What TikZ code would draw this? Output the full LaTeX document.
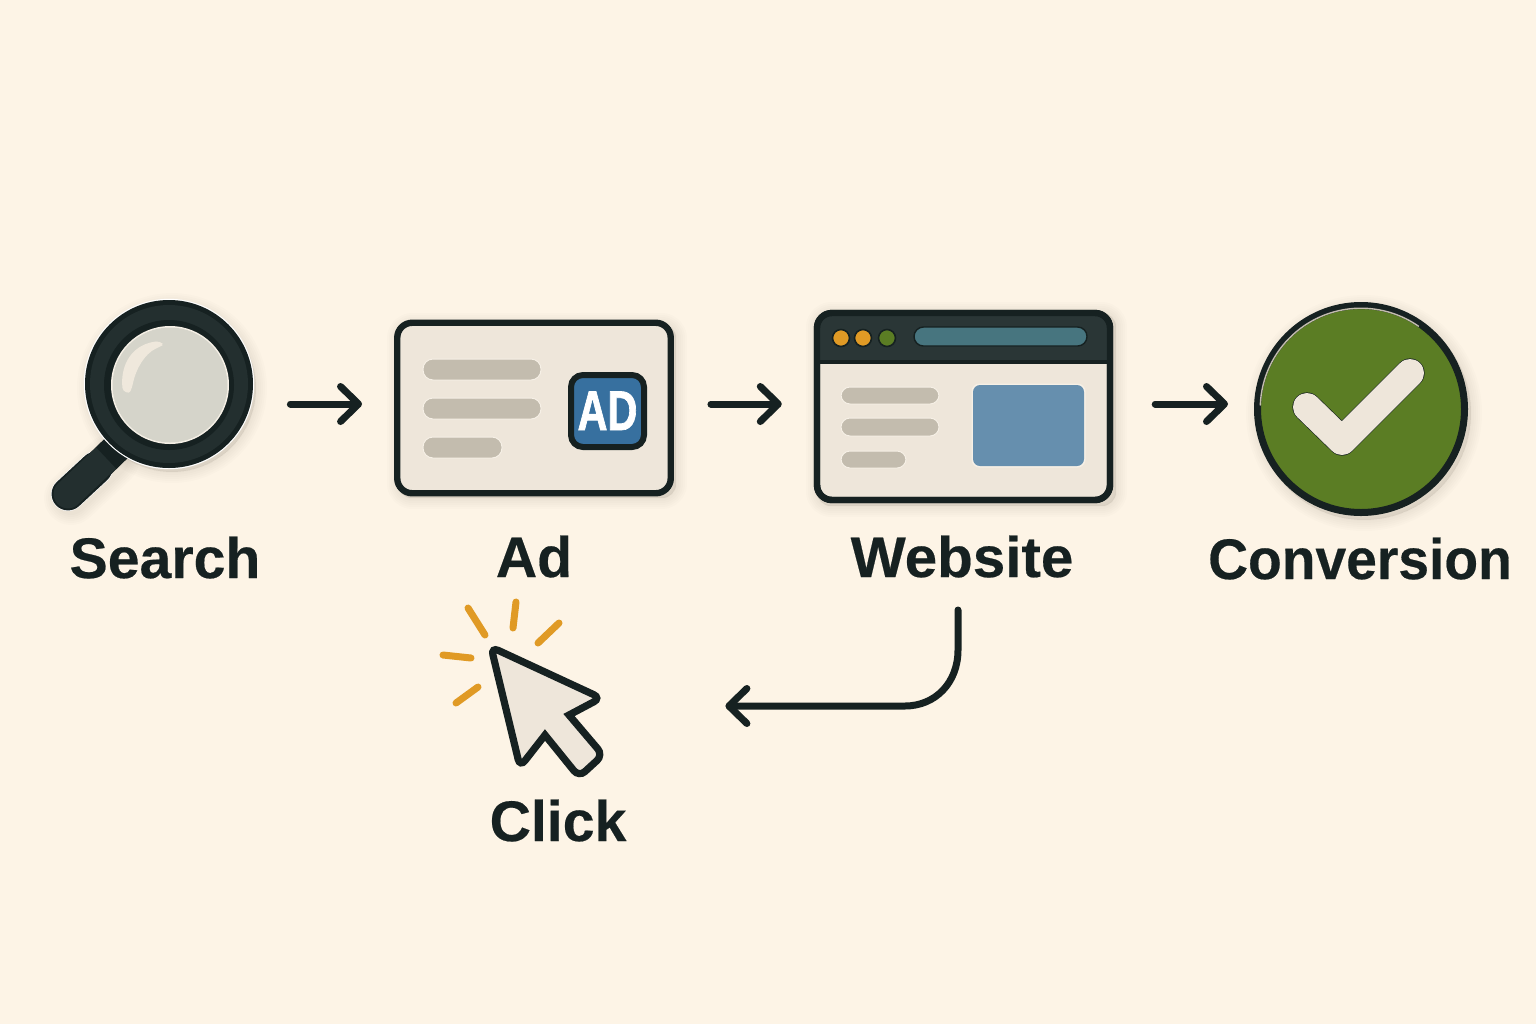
\documentclass[tikz,border=0pt]{standalone}
\usepackage{fontspec}
\setmainfont[BoldFeatures={FakeBold=0.35}]{Liberation Sans}
\newfontfamily\adfont[BoldFeatures={FakeBold=1.2,FakeStretch=.74}]{Liberation Sans}
\usetikzlibrary{arrows.meta,calc}
\definecolor{paper}{HTML}{FDF4E6}
\definecolor{ink}{HTML}{162121}
\definecolor{ringc}{HTML}{232F2F}
\definecolor{headc}{HTML}{2A3636}
\definecolor{lensc}{HTML}{D5D4CA}
\definecolor{glint}{HTML}{EFE8DC}
\definecolor{halo}{HTML}{F6F0E6}
\definecolor{cardc}{HTML}{EEE6DA}
\definecolor{barc}{HTML}{C3BCAE}
\definecolor{adblue}{HTML}{37709F}
\definecolor{panelblue}{HTML}{668FAE}
\definecolor{amber}{HTML}{E09A25}
\definecolor{greenc}{HTML}{5B7D24}
\definecolor{urlc}{HTML}{47757F}
\tikzset{
  flow/.style={draw=ink,line width=3.5pt,line cap=round,line join=round,
    -{Straight Barb[length=9pt,width=17.5pt,line cap=round,line join=round]}},
  label/.style={anchor=base,text=ink,font=\bfseries\fontsize{28.6}{30}\selectfont},
  card/.style={draw=ink,line width=3.2pt,fill=cardc,rounded corners=7.5pt,inner sep=0pt},
  barpill/.style={fill=barc,rounded corners=5pt,draw=halo,line width=.5pt},
  spark/.style={draw=amber,line width=3.5pt,line cap=round},
  iconbox/.style={inner sep=0pt,minimum width=0pt},
  soft/.style={fill=black,opacity=.011,draw=black,draw opacity=.011,line join=round},
}
\begin{document}
\begin{tikzpicture}[x=.5pt,y=-.5pt]
\useasboundingbox (0,0) rectangle (1536,1024);
\fill[paper] (0,0) rectangle (1536,1024);

% ---- soft shadows
\foreach \w in {1pt,3pt,5pt,7pt,9pt,11pt}{
  \path[soft,line width=\w] (172,388) circle (84);
  \draw[black,opacity=.011,line width=16pt+\w,line cap=round] (71,498) -- (112,460);
  \path[soft,line width=\w,rounded corners=7pt] (398,324) rectangle (676,498);
  \path[soft,line width=\w,rounded corners=7pt] (817,313) rectangle (1116,506);
  \path[soft,line width=\w] (1364,413) circle (107);
}

% ---- Search icon
\draw[white,line width=17pt,line cap=round] (68,494) -- (96,468);
\draw[ink,line width=16.4pt,line cap=round] (68,494) -- (96,468);
\draw[ink,line width=15pt] (96,468) -- (131,434);
\draw[ringc,line width=14.4pt,line cap=round] (68,494) -- (88,475);
\draw[ringc,line width=14.4pt] (88,475) -- (106,458);
\draw[white,line width=.7pt] (169,384) circle (84.5);
\fill[ink] (169,384) circle (84);
\fill[ringc] (169,384) circle (79);
\fill[ink] (169,385) circle (65);
\fill[halo] (170,385) circle (59);
\fill[lensc] (170,385) circle (57.5);
\fill[glint,rounded corners=2pt]
  (122,384) .. controls (123,360) and (135,344) .. (160,341)
  .. controls (162,343) and (161,346) .. (159,347)
  .. controls (145,354) and (136,368) .. (132,388)
  .. controls (129,394) and (123,392) .. (122,384) -- cycle;
\node[iconbox,minimum size=84pt,circle] (searchicon) at (169,384) {};

% ---- Ad card
\node[card,minimum width=136.75pt,minimum height=85.25pt] (adcard) at (534,408) {};
\fill[barpill] (423,359) rectangle (541,380);
\fill[barpill] (423,398) rectangle (541,419);
\fill[barpill] (423,437) rectangle (502,458);
\node[draw=ink,line width=3pt,fill=adblue,rounded corners=6pt,minimum width=36.5pt,minimum height=36pt,inner sep=0pt] (adbadge) at (607.5,411) {};
\node[anchor=base,text=white,font=\adfont\bfseries\fontsize{28}{28}\selectfont] (adtext) at (607.5,430) {AD};

% ---- Website window
\node[card,minimum width=146.5pt,minimum height=93.5pt] (webcard) at (963.5,406.5) {};
\fill[headc,rounded corners=7.5pt] (817,362) [rounded corners=7.5pt] -- (817,313) -- (1110,313) [sharp corners] -- (1110,362) -- cycle;
\draw[ink,line width=2.2pt] (816,362) -- (1111,362);
\node[draw=ink,line width=3.2pt,rounded corners=7.5pt,minimum width=146.5pt,minimum height=93.5pt,inner sep=0pt] (webframe) at (963.5,406.5) {};
\fill[barpill,rounded corners=4.5pt] (841,387) rectangle (939,404);
\fill[barpill,rounded corners=4.5pt] (841,418) rectangle (939,436);
\fill[barpill,rounded corners=4.5pt] (841,451) rectangle (906,468);
\fill[halo,rounded corners=4pt] (971.5,383.5) rectangle (1085.5,467.5);
\fill[panelblue,rounded corners=3.5pt] (973,385) rectangle (1084,466);
\foreach \dx/\dc in {841/amber,863/amber,887/greenc}{
  \fill[\dc,draw=ink,line width=.8pt] (\dx,338) circle (8.5);
}
\fill[urlc,draw=ink,line width=.7pt,rounded corners=4.7pt] (914,327) rectangle (1087,346);

% ---- Conversion badge
\node[circle,draw=ink,line width=3.5pt,fill=greenc,minimum size=103.5pt,inner sep=0pt] (checkbadge) at (1361,409) {};
\draw[barc,line width=.7pt] (1361,409) ++(-178:100.8) arc[start angle=-178,end angle=-55,radius=100.8];
\draw[ink,line width=14.6pt,line cap=round,line join=round] (1307,407) -- (1342,441) -- (1410,373);
\draw[cardc,line width=14pt,line cap=round,line join=round] (1307,407) -- (1342,441) -- (1410,373);

% ---- Cursor
\coordinate (s1a) at (468,608); \coordinate (s1b) at (485,635);
\coordinate (s2a) at (516,602); \coordinate (s2b) at (513,628);
\coordinate (s3a) at (559,623); \coordinate (s3b) at (538,643);
\coordinate (s4a) at (443,655); \coordinate (s4b) at (471,658);
\coordinate (s5a) at (478,687); \coordinate (s5b) at (456,703);
\foreach \n in {1,...,5}{ \draw[spark] (s\n a) -- (s\n b); }
\draw[draw=ink,fill=cardc,line width=3.6pt,line join=miter]
  (545,735) [rounded corners=4pt] -- (520,767) -- (491,647) -- (601,698) [sharp corners] -- (569,715)
  [rounded corners=4pt] -- (603,755) -- (579,777) [sharp corners] -- cycle;
\node[iconbox,minimum width=55pt,minimum height=66pt] (cursor) at (546,711) {};

% ---- Labels
\node[label] (lsearch) at (165,578) {Search};
\node[label] (lad) at (534,577) {Ad};
\node[label] (lwebsite) at (962,577) {\scalebox{1.02}[1]{Website}};
\node[label] (lconv) at (1360,579) {\scalebox{.965}[1]{Conversion}};
\node[label] (lclick) at (558,841) {Click};

% ---- Connectors
\coordinate (r1) at (0,404);
\draw[flow,shorten <=18.5pt,shorten >=16pt] (searchicon.east |- r1) -- (adcard.west |- r1);
\draw[flow,shorten <=18.5pt,shorten >=16pt] (adcard.east |- r1) -- (webcard.west |- r1);
\draw[flow,shorten <=21pt,shorten >=13pt] (webcard.east |- r1) -- (checkbadge.west |- r1);
\coordinate (wb) at (958,610);
\coordinate (wt) at (958,650);
\coordinate (wk) at (905,706);
\draw[flow,shorten >=62pt] (wb) -- (wt) .. controls (958,683) and (935,706) .. (wk) -- (cursor.east |- wk);
\end{tikzpicture}
\end{document}
